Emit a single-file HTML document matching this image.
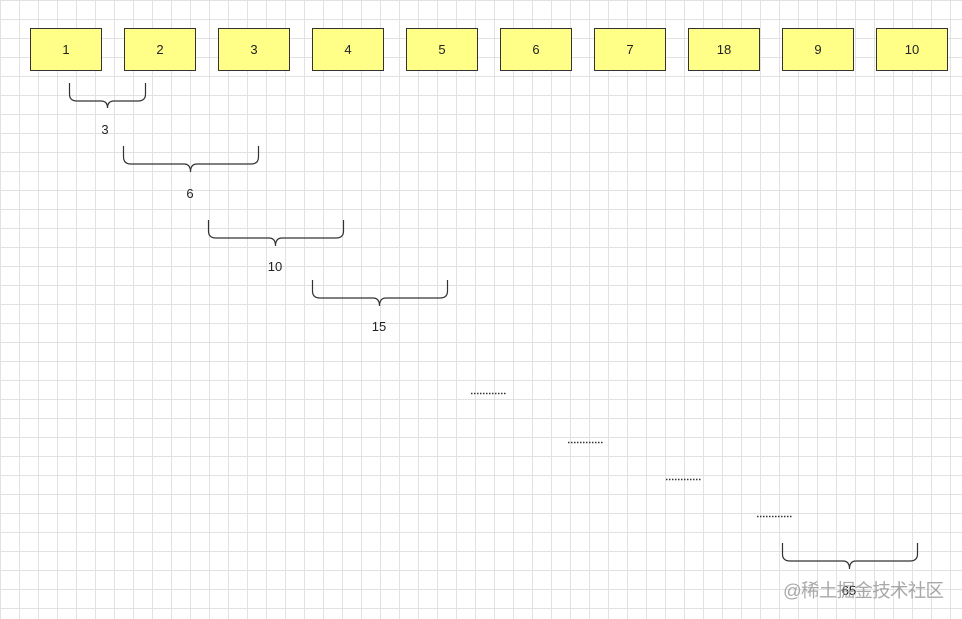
<!DOCTYPE html>
<html><head><meta charset="utf-8"><style>
html,body{margin:0;padding:0;}
body{width:962px;height:619px;overflow:hidden;background-color:#fff;
background-image:linear-gradient(#e2e2e2 1px,transparent 1px),linear-gradient(90deg,#e2e2e2 1px,transparent 1px);
background-size:19px 19px;background-position:0 0;position:relative;font-family:"Liberation Sans",sans-serif;}
.b{position:absolute;top:28px;background:#ffff88;border:1px solid #333;box-sizing:border-box;width:72px;height:43px;
display:flex;align-items:center;justify-content:center;font-size:13px;color:#222;}
</style></head><body>
<div class="b" style="left:30px">1</div>
<div class="b" style="left:124px">2</div>
<div class="b" style="left:218px">3</div>
<div class="b" style="left:312px">4</div>
<div class="b" style="left:406px">5</div>
<div class="b" style="left:500px">6</div>
<div class="b" style="left:594px">7</div>
<div class="b" style="left:688px">18</div>
<div class="b" style="left:782px">9</div>
<div class="b" style="left:876px">10</div>
<svg width="962" height="619" style="position:absolute;left:0;top:0" fill="none" stroke="#333" stroke-width="1.2">
<g font-family="Liberation Sans,sans-serif" font-size="13" fill="#222" stroke="none" text-anchor="middle">
<text x="105" y="134">3</text>
<text x="190" y="198">6</text>
<text x="275" y="271">10</text>
<text x="379" y="331">15</text>
<text x="849" y="595">65</text>
</g>
<path d="M69.5 83 V94 Q69.5 101 77 101 H101 Q107.5 101 107.5 108 Q107.5 101 114 101 H138 Q145.5 101 145.5 94 V83"/>
<path d="M123.5 146 V157 Q123.5 164 131 164 H184 Q190.5 164 190.5 172 Q190.5 164 197 164 H251 Q258.5 164 258.5 157 V146"/>
<path d="M208.5 220 V231 Q208.5 238 216 238 H269 Q275.5 238 275.5 246 Q275.5 238 282 238 H336 Q343.5 238 343.5 231 V220"/>
<path d="M312.5 280 V291 Q312.5 298 320 298 H373 Q379.5 298 379.5 306 Q379.5 298 386 298 H440 Q447.5 298 447.5 291 V280"/>
<path d="M782.5 543 V554 Q782.5 561 790 561 H843 Q849.5 561 849.5 569 Q849.5 561 856 561 H910 Q917.5 561 917.5 554 V543"/>
<g stroke-dasharray="1.5 1.5" stroke-width="1.5">
<path d="M471 393.5 H506"/><path d="M568 442.5 H603"/><path d="M666 479.5 H701"/><path d="M757 516.5 H792"/>
</g>
<text x="783" y="597" font-family="Liberation Sans,Noto Sans CJK SC,sans-serif" font-size="18.5" fill="#999" stroke="none" opacity="0.85" textLength="161">@稀土掘金技术社区</text>
</svg>
</body></html>
